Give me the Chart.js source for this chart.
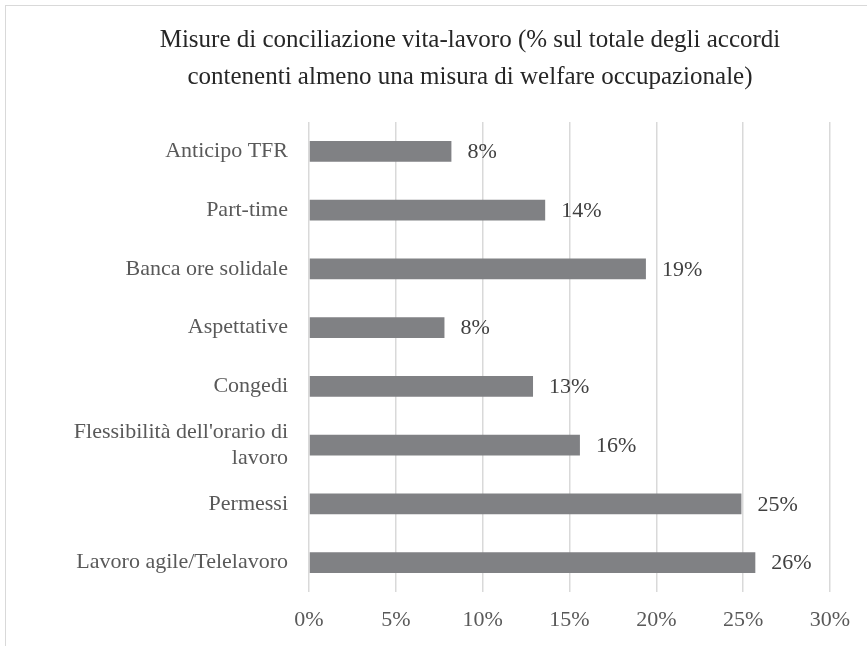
<!DOCTYPE html>
<html lang="it">
<head>
<meta charset="utf-8">
<title>Misure di conciliazione vita-lavoro</title>
<script src="https://cdn.jsdelivr.net/npm/chart.js@4/dist/chart.umd.min.js"></script>
<style>
  html, body { margin: 0; padding: 0; background: #fff; overflow: hidden; }
  .frame { position: absolute; left: 5px; top: 5px; width: 900px; height: 700px; border: 1.5px solid #d9d9d9; }
  .box { position: relative; width: 867px; height: 646px; }
</style>
</head>
<body>
<div class="frame"></div>
<div class="box">
  <canvas id="chart-area"></canvas>
</div>

<script>
  // categorie (dall'alto verso il basso) e valori in %
  var categories = [
    'Anticipo TFR',
    'Part-time',
    'Banca ore solidale',
    'Aspettative',
    'Congedi',
    ["Flessibilità dell'orario di", 'lavoro'],
    'Permessi',
    'Lavoro agile/Telelavoro'
  ];
  var values = [8.2, 13.6, 19.4, 7.8, 12.9, 15.6, 24.9, 25.7];
  var xTicks = [0, 5, 10, 15, 20, 25, 30];

  var titleLines = [
    'Misure di conciliazione vita-lavoro (% sul totale degli accordi',
    'contenenti almeno una misura di welfare occupazionale)'
  ];

  var serif = "'Liberation Serif', 'DejaVu Serif', serif";

  // titolo centrato sul riquadro del grafico (non sull'area del canvas)
  var chartTitle = {
    id: 'chartTitle',
    afterDraw: function(chart) {
      var ctx = chart.ctx;
      ctx.save();
      ctx.font = '25px ' + serif;
      ctx.fillStyle = '#262626';
      ctx.textAlign = 'center';
      ctx.textBaseline = 'middle';
      titleLines.forEach(function(line, i) {
        ctx.fillText(line, 470, 40 + i * 37);
      });
      ctx.restore();
    }
  };

  // etichette dei valori a destra delle barre
  var valueLabels = {
    id: 'valueLabels',
    afterDatasetsDraw: function(chart) {
      var ctx = chart.ctx;
      var meta = chart.getDatasetMeta(0);
      ctx.save();
      ctx.font = '22px ' + serif;
      ctx.fillStyle = '#404040';
      ctx.textAlign = 'left';
      ctx.textBaseline = 'middle';
      meta.data.forEach(function(bar, i) {
        ctx.fillText(Math.round(values[i]) + '%', bar.x + 16, bar.y + 1);
      });
      ctx.restore();
    }
  };

  var config = {
    type: 'bar',
    data: {
      labels: categories,
      datasets: [{
        data: values,
        backgroundColor: '#808184',
        borderWidth: 0,
        barPercentage: 0.35,
        categoryPercentage: 1
      }]
    },
    options: {
      indexAxis: 'y',
      responsive: true,
      maintainAspectRatio: false,
      animation: false,
      layout: { padding: { left: 10, right: 37, top: 122, bottom: 0 } },
      plugins: {
        legend: { display: false },
        tooltip: { enabled: false },
        title: { display: false }
      },
      scales: {
        x: {
          min: 0,
          max: 30,
          afterBuildTicks: function(scale) {
            scale.ticks = xTicks.map(function(v) { return { value: v }; });
          },
          afterFit: function(scale) { scale.height = 54; },
          grid: { color: '#d9d9d9', lineWidth: 1.5, drawTicks: false },
          border: { display: false },
          ticks: {
            padding: 15,
            color: '#595959',
            font: { family: serif, size: 22 },
            callback: function(v) { return v + '%'; }
          }
        },
        y: {
          afterFit: function(scale) { scale.width = 299; },
          grid: { display: false, drawTicks: false },
          border: { display: false },
          ticks: {
            padding: 21,
            color: '#595959',
            font: { family: serif, size: 22, lineHeight: 1.15 }
          }
        }
      }
    },
    plugins: [chartTitle, valueLabels]
  };

  window.onload = function() {
    var ctx = document.getElementById('chart-area').getContext('2d');
    window.myBar = new Chart(ctx, config);
  };
</script>
</body>
</html>
